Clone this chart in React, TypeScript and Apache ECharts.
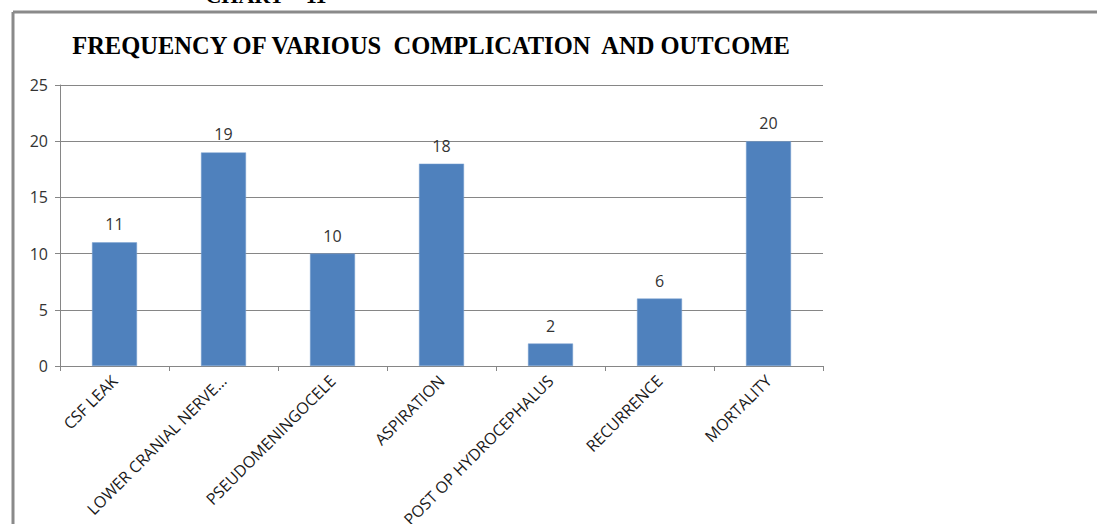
import React, { useEffect, useRef } from "react";
import * as echarts from "echarts";

const categories = [
  "CSF LEAK",
  "LOWER CRANIAL NERVE…",
  "PSEUDOMENINGOCELE",
  "ASPIRATION",
  "POST OP HYDROCEPHALUS",
  "RECURRENCE",
  "MORTALITY",
];
const values = [11, 19, 10, 18, 2, 6, 20];
const yTicks = { min: 0, max: 25, interval: 5 };
const chartTitle = "FREQUENCY OF VARIOUS  COMPLICATION  AND OUTCOME";
const pageHeading = "CHART – 11";

export default function App() {
  const ref = useRef<HTMLDivElement>(null);
  useEffect(() => {
    if (!ref.current) return;
    const chart = echarts.init(ref.current, undefined, { renderer: "svg" });
    const labelFont = "'Open Sans', 'Noto Sans', sans-serif";
    chart.setOption({
      animation: false,
      backgroundColor: "#ffffff",
      grid: {
        left: 60,
        right: 274,
        top: 85,
        bottom: 158,
        containLabel: false,
        outerBoundsMode: "none",
      },
      xAxis: {
        type: "category",
        data: categories,
        axisLine: { show: true, lineStyle: { color: "#868686", width: 1 } },
        axisTick: { show: true, alignWithLabel: false, length: 5, lineStyle: { color: "#868686" } },
        axisLabel: {
          interval: 0,
          rotate: 45,
          margin: 12,
          fontSize: 16,
          color: "#1a1a1a",
          fontFamily: labelFont,
        },
        splitLine: { show: false },
      },
      yAxis: {
        type: "value",
        min: yTicks.min,
        max: yTicks.max,
        interval: yTicks.interval,
        axisLine: { show: true, lineStyle: { color: "#868686", width: 1 } },
        axisTick: { show: true, length: 5, lineStyle: { color: "#868686" } },
        axisLabel: { margin: 12, fontSize: 16, color: "#333333", fontFamily: labelFont },
        splitLine: { show: true, lineStyle: { color: "#868686", width: 1 } },
      },
      series: [
        {
          type: "bar",
          data: values,
          barWidth: 45,
          itemStyle: { color: "#4F81BD", borderColor: "#7aa0d0", borderWidth: 0.5 },
          label: {
            show: true,
            position: "top",
            distance: 10,
            fontSize: 16,
            color: "#333333",
            fontFamily: labelFont,
          },
        },
      ],
      graphic: [
        {
          type: "line",
          shape: { x1: 13, y1: 12, x2: 1097, y2: 12 },
          style: { stroke: "#8a8a8a", lineWidth: 3 },
        },
        {
          type: "line",
          shape: { x1: 13, y1: 12, x2: 13, y2: 524 },
          style: { stroke: "#8a8a8a", lineWidth: 3 },
        },
        {
          type: "text",
          x: 431,
          y: 45,
          style: {
            text: chartTitle,
            fill: "#000000",
            font: "bold 24.5px 'Liberation Serif', 'Times New Roman', serif",
            textAlign: "center",
            textVerticalAlign: "middle",
          },
        },
        {
          type: "text",
          x: 266,
          y: 6,
          style: {
            text: pageHeading,
            fill: "#000000",
            font: "bold 22px 'Liberation Serif', 'Times New Roman', serif",
            textAlign: "center",
            textVerticalAlign: "bottom",
          },
        },
      ],
    });
    return () => chart.dispose();
  }, []);
  return (
    <div
      ref={ref}
      style={{ position: "fixed", left: 0, top: 0, width: 1097, height: 524 }}
    />
  );
}
